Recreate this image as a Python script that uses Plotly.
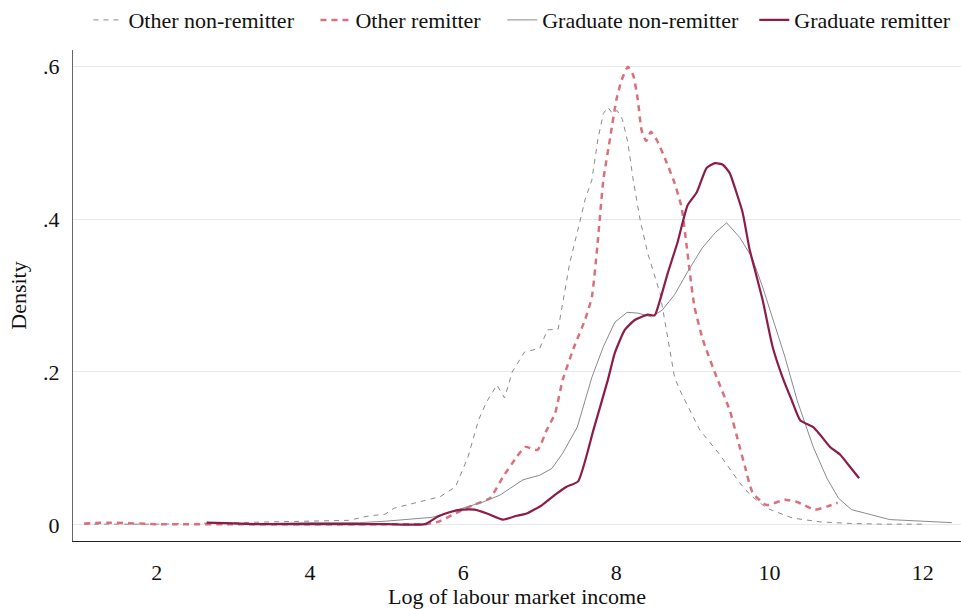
import plotly.graph_objects as go

# Kernel density estimates of log labour market income, by group
x_other_non = [1.05, 2.0, 3.0, 3.5, 4.0, 4.5, 4.78, 4.98, 5.1, 5.3, 5.43, 5.7, 5.9, 6.06, 6.2,
               6.3, 6.44, 6.54, 6.64, 6.8, 7.0, 7.1, 7.24, 7.39, 7.52, 7.59, 7.68, 7.76, 7.83,
               7.89, 7.95, 8.01, 8.08, 8.15, 8.22, 8.31, 8.41, 8.57, 8.76, 8.83, 9.09, 9.35,
               9.61, 9.75, 9.96, 10.3, 10.66, 11.05, 11.5, 11.99]
y_other_non = [0.001, 0.001, 0.003, 0.004, 0.005, 0.006, 0.012, 0.014, 0.022, 0.027, 0.030, 0.037,
               0.050, 0.088, 0.137, 0.160, 0.183, 0.166, 0.200, 0.226, 0.231, 0.255, 0.256, 0.342,
               0.395, 0.425, 0.451, 0.505, 0.538, 0.546, 0.538, 0.542, 0.530, 0.500, 0.451, 0.399,
               0.355, 0.303, 0.193, 0.176, 0.124, 0.092, 0.055, 0.039, 0.022, 0.009, 0.004, 0.002,
               0.001, 0.001]

x_other_rem = [1.05, 1.4, 2.0, 3.0, 4.0, 5.0, 5.5, 5.67, 5.92, 6.13, 6.35, 6.52, 6.7, 6.81, 6.97,
               7.09, 7.2, 7.3, 7.46, 7.59, 7.68, 7.75, 7.83, 7.92, 8.0, 8.07, 8.15, 8.22, 8.28,
               8.33, 8.39, 8.45, 8.53, 8.66, 8.76, 8.85, 8.92, 8.96, 9.02, 9.13, 9.31, 9.48,
               9.61, 9.68, 9.78, 9.96, 10.2, 10.36, 10.59, 10.75, 10.89]
y_other_rem = [0.002, 0.003, 0.001, 0.001, 0.001, 0.001, 0.001, 0.004, 0.016, 0.026, 0.035, 0.063,
               0.089, 0.102, 0.098, 0.124, 0.146, 0.190, 0.236, 0.268, 0.298, 0.363, 0.451, 0.507,
               0.556, 0.582, 0.599, 0.588, 0.556, 0.516, 0.502, 0.514, 0.503, 0.473, 0.447, 0.416,
               0.363, 0.329, 0.285, 0.242, 0.193, 0.150, 0.102, 0.076, 0.042, 0.026, 0.033, 0.030,
               0.020, 0.024, 0.029]

x_grad_non = [2.65, 3.0, 3.5, 4.0, 4.65, 5.0, 5.6, 5.99, 6.26, 6.48, 6.78, 7.0, 7.16, 7.3, 7.49,
              7.68, 7.83, 7.98, 8.14, 8.28, 8.46, 8.6, 8.76, 8.93, 9.12, 9.29, 9.44, 9.61, 9.77,
              9.91, 10.04, 10.2, 10.36, 10.57, 10.75, 10.9, 11.07, 11.57, 12.38]
y_grad_non = [0.003, 0.002, 0.002, 0.003, 0.003, 0.005, 0.010, 0.022, 0.030, 0.039, 0.059, 0.065,
              0.074, 0.094, 0.128, 0.193, 0.233, 0.265, 0.278, 0.277, 0.272, 0.281, 0.301, 0.331,
              0.362, 0.382, 0.395, 0.376, 0.350, 0.311, 0.270, 0.220, 0.163, 0.102, 0.061, 0.035,
              0.020, 0.007, 0.003]

x_grad_rem = [2.65, 3.0, 3.3, 4.0, 5.0, 5.5, 5.67, 5.83, 6.0, 6.15, 6.31, 6.52, 6.7, 6.83, 7.03,
              7.22, 7.35, 7.5, 7.7, 7.89, 7.98, 8.11, 8.24, 8.41, 8.5, 8.57, 8.67, 8.8, 8.93,
              9.05, 9.18, 9.29, 9.39, 9.48, 9.57, 9.65, 9.74, 9.81, 9.91, 10.04, 10.17, 10.29,
              10.4, 10.57, 10.66, 10.79, 10.92, 11.05, 11.17]
y_grad_rem = [0.003, 0.002, 0.001, 0.001, 0.001, 0.001, 0.011, 0.017, 0.020, 0.020, 0.015, 0.007,
              0.012, 0.015, 0.026, 0.041, 0.050, 0.057, 0.124, 0.190, 0.225, 0.255, 0.268, 0.275,
              0.274, 0.294, 0.329, 0.370, 0.418, 0.435, 0.467, 0.473, 0.471, 0.460, 0.434, 0.408,
              0.360, 0.333, 0.294, 0.233, 0.193, 0.163, 0.137, 0.128, 0.118, 0.102, 0.092, 0.076,
              0.061]

x_ticks = [2, 4, 6, 8, 10, 12]
y_ticks = [0, 0.2, 0.4, 0.6]
y_ticktext = ["0", ".2", ".4", ".6"]

FONT = "Liberation Serif"
FS = 22
GRAY = "#8a8a8a"
PINK = "#d9707c"
MAROON = "#8c1c48"
NB = "\u00a0"  # non-breaking space, widens the gap between legend entries

fig = go.Figure()
fig.add_trace(go.Scatter(x=x_other_non, y=y_other_non, mode="lines",
                         name="Other non-remitter" + NB * 3,
                         line=dict(color=GRAY, width=1, dash="5px,5px")))
fig.add_trace(go.Scatter(x=x_other_rem, y=y_other_rem, mode="lines",
                         name="Other remitter" + NB * 3,
                         line=dict(color=PINK, width=2.5, dash="6px,5px",
                                   shape="spline", smoothing=0.5)))
fig.add_trace(go.Scatter(x=x_grad_non, y=y_grad_non, mode="lines",
                         name="Graduate non-remitter" + NB * 2,
                         line=dict(color=GRAY, width=1)))
fig.add_trace(go.Scatter(x=x_grad_rem, y=y_grad_rem, mode="lines",
                         name="Graduate remitter",
                         line=dict(color=MAROON, width=2.2, shape="spline", smoothing=0.5)))

fig.update_layout(
    width=961, height=609,
    margin=dict(l=73, r=0, t=50, b=68),
    paper_bgcolor="white", plot_bgcolor="white",
    font=dict(family=FONT, size=FS, color="#111"),
    showlegend=True,
    legend=dict(orientation="h", xref="container", yref="container",
                x=0.092, xanchor="left", y=0.967, yanchor="middle",
                font=dict(size=FS), itemwidth=30, bgcolor="rgba(0,0,0,0)"),
    xaxis=dict(range=[0.905, 12.5], tickvals=x_ticks, showgrid=False, zeroline=False,
               showline=True, linecolor="#222", linewidth=1.2, ticks="",
               ticklabelstandoff=11, automargin=False, tickfont=dict(size=FS),
               title=dict(text="Log of labour market income", standoff=13,
                          font=dict(size=FS))),
    yaxis=dict(range=[-0.021, 0.621], tickvals=y_ticks, ticktext=y_ticktext,
               showgrid=True, gridcolor="#e8e8e8", gridwidth=1.2, zeroline=False,
               showline=True, linecolor="#666", linewidth=1.2, ticks="",
               ticklabelstandoff=8, automargin=False, tickfont=dict(size=FS),
               title=dict(text="Density", standoff=10, font=dict(size=FS))),
)

fig.write_html("out.html")
